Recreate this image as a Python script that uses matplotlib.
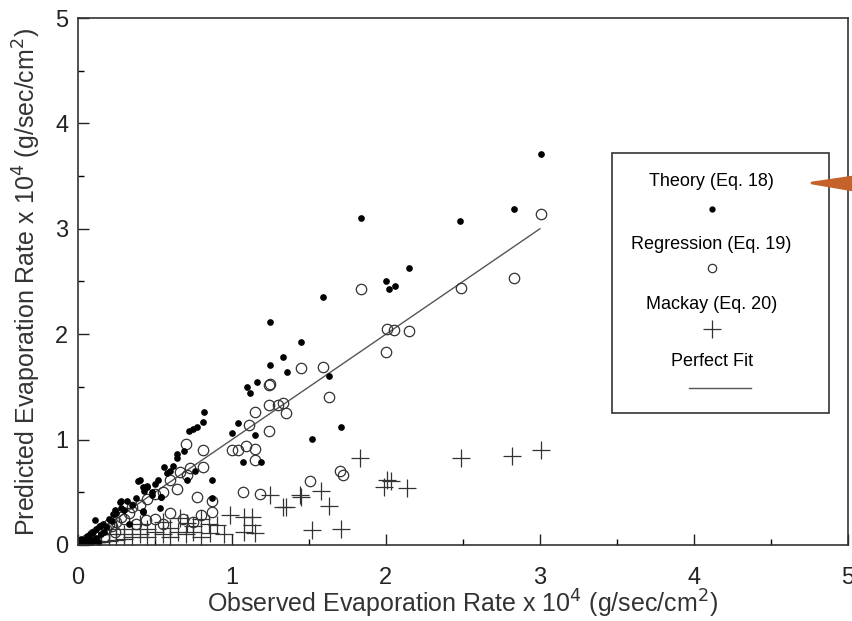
import numpy as np
import matplotlib
matplotlib.use('Agg')
import matplotlib.pyplot as plt
from matplotlib.patches import Rectangle, Polygon

plt.rcParams['font.family'] = ['Liberation Sans', 'DejaVu Sans']

# Theory (Eq. 18) - filled dots
theory_x = [3.01, 2.83, 2.48, 1.84, 2.15, 2.00, 2.02, 2.06, 1.59, 1.45, 1.25, 1.33, 1.25, 1.36,
            1.16, 1.10, 1.12, 1.63, 1.52, 1.71, 0.82, 0.81, 0.72, 0.75, 0.77, 1.04, 1.00, 1.15,
            1.07, 1.19, 0.56, 0.64, 0.64, 0.69, 0.76, 0.71, 0.87, 0.40, 0.42, 0.43, 0.54, 0.27,
            0.24, 0.23, 0.87, 0.42, 0.02, 0.04, 0.06, 0.08, 0.10, 0.12, 0.14, 0.16, 0.18, 0.20,
            0.22, 0.25, 0.28, 0.30, 0.32, 0.35, 0.38, 0.45, 0.48, 0.50, 0.52, 0.58, 0.60, 0.62,
            0.39, 0.45, 0.28, 0.42, 0.53, 0.48, 0.54, 0.33, 0.11, 0.03, 0.05, 0.07, 0.09, 0.12,
            0.15, 0.06, 0.10, 0.13, 0.02, 0.04, 0.17, 0.08]
theory_y = [3.71, 3.19, 3.07, 3.10, 2.63, 2.50, 2.43, 2.46, 2.35, 1.93, 2.12, 1.78, 1.71, 1.64,
            1.55, 1.50, 1.44, 1.60, 1.01, 1.12, 1.26, 1.17, 1.08, 1.10, 1.12, 1.16, 1.06, 1.04,
            0.79, 0.79, 0.74, 0.86, 0.83, 0.89, 0.70, 0.62, 0.62, 0.62, 0.55, 0.51, 0.46, 0.41,
            0.33, 0.29, 0.45, 0.32, 0.02, 0.05, 0.06, 0.10, 0.12, 0.15, 0.18, 0.20, 0.17, 0.25,
            0.23, 0.30, 0.35, 0.33, 0.42, 0.38, 0.45, 0.55, 0.50, 0.58, 0.62, 0.68, 0.70, 0.75,
            0.61, 0.56, 0.42, 0.31, 0.35, 0.47, 0.46, 0.20, 0.24, 0.01, 0.03, 0.02, 0.05, 0.07,
            0.10, 0.09, 0.04, 0.03, 0.06, 0.01, 0.12, 0.02]

# Regression (Eq. 19) - open circles
regr_x = [3.01, 2.83, 2.49, 1.84, 2.01, 2.05, 2.15, 2.00, 1.59, 1.45, 1.63, 1.51, 1.70, 1.72,
          1.25, 1.24, 1.30, 1.33, 1.35, 1.15, 1.11, 1.24, 1.24, 1.00, 1.04, 1.09, 1.15, 1.15,
          1.07, 1.18, 0.70, 0.81, 0.81, 0.77, 0.87, 0.87, 0.73, 0.71, 0.64, 0.60, 0.66,
          0.03, 0.05, 0.08, 0.10, 0.13, 0.15, 0.18, 0.20, 0.22, 0.25, 0.28, 0.30, 0.33, 0.35,
          0.40, 0.45, 0.50, 0.55, 0.50, 0.60, 0.68, 0.75, 0.80, 0.55, 0.06, 0.12, 0.17, 0.24,
          0.38, 0.44]
regr_y = [3.14, 2.53, 2.44, 2.43, 2.05, 2.04, 2.03, 1.83, 1.69, 1.68, 1.40, 0.61, 0.70, 0.66,
          1.53, 1.52, 1.33, 1.35, 1.25, 1.26, 1.14, 1.08, 1.33, 0.90, 0.90, 0.94, 0.91, 0.81,
          0.50, 0.48, 0.96, 0.90, 0.74, 0.46, 0.42, 0.31, 0.73, 0.66, 0.53, 0.62, 0.69,
          0.02, 0.05, 0.07, 0.10, 0.12, 0.16, 0.15, 0.20, 0.18, 0.22, 0.27, 0.25, 0.30, 0.36,
          0.38, 0.44, 0.48, 0.50, 0.25, 0.30, 0.25, 0.22, 0.28, 0.20, 0.02, 0.04, 0.08, 0.12,
          0.20, 0.24]

# Mackay (Eq. 20) - crosses
mackay_x = [0.05, 0.10, 0.15, 0.20, 0.25, 0.30, 0.35, 0.40, 0.45, 0.50, 0.55, 0.60, 0.66, 0.71,
            0.75, 0.80, 0.86, 0.90, 0.99, 1.08, 1.13, 1.13, 1.15, 1.08, 1.25, 1.33, 1.35, 1.44,
            1.45, 1.58, 1.63, 1.52, 1.71, 1.83, 2.01, 1.99, 2.03, 2.14, 2.49, 2.82, 3.01,
            0.35, 0.40, 0.45, 0.55, 0.60, 0.65, 0.70, 0.75, 0.80, 0.85, 0.95, 0.20, 0.25, 0.30]
mackay_y = [0.01, 0.02, 0.03, 0.04, 0.05, 0.06, 0.08, 0.10, 0.08, 0.12, 0.10, 0.16, 0.26, 0.21,
            0.12, 0.08, 0.11, 0.19, 0.28, 0.27, 0.27, 0.19, 0.11, 0.12, 0.47, 0.36, 0.36, 0.47,
            0.46, 0.51, 0.37, 0.14, 0.15, 0.83, 0.62, 0.55, 0.61, 0.54, 0.83, 0.84, 0.90,
            0.15, 0.20, 0.15, 0.22, 0.08, 0.12, 0.10, 0.18, 0.25, 0.20, 0.10, 0.10, 0.15, 0.10]

fit_x = [0, 3]
fit_y = [0, 3]

fig = plt.figure(figsize=(8.53, 6.21), dpi=100)
ax = fig.add_axes([0.0914, 0.1224, 0.9026, 0.8486])

ax.plot(fit_x, fit_y, color='#555555', lw=1.0)
ax.plot(mackay_x, mackay_y, '+', color='#333333', ms=13, mew=0.9)
ax.plot(regr_x, regr_y, 'o', mfc='none', mec='#333333', ms=7.5, mew=0.9)
ax.plot(theory_x, theory_y, 'o', color='black', ms=3.8)

ax.set_xlim(0, 5)
ax.set_ylim(0, 5)
ax.set_xticks(range(6))
ax.set_yticks(range(6))
ax.set_xticks(np.arange(0.5, 5, 1), minor=True)
ax.set_yticks(np.arange(0.5, 5, 1), minor=True)
ax.tick_params(direction='in', length=8, width=1, labelsize=17, colors='#222222')
ax.tick_params(axis='y', pad=7)
ax.tick_params(axis='x', pad=16)
ax.tick_params(which='minor', direction='in', length=4, width=1)
for s in ax.spines.values():
    s.set_linewidth(1.2)
    s.set_color('#333333')

ax.set_xlabel('Observed Evaporation Rate x 10$^4$ (g/sec/cm$^2$)', fontsize=18, color='#333333', labelpad=-1)
ax.set_ylabel('Predicted Evaporation Rate x 10$^4$ (g/sec/cm$^2$)', fontsize=18, color='#333333', labelpad=9)

# legend box drawn by hand
ax.add_patch(Rectangle((0.693, 0.251), 0.283, 0.492, transform=ax.transAxes,
                       fill=False, lw=1.2, ec='#333333'))
lx = 0.823
ax.text(lx, 0.69, 'Theory (Eq. 18)', transform=ax.transAxes, ha='center', va='center', fontsize=13)
ax.plot([lx], [0.638], 'o', color='black', ms=3.5, transform=ax.transAxes)
ax.text(lx, 0.571, 'Regression (Eq. 19)', transform=ax.transAxes, ha='center', va='center', fontsize=13)
ax.plot([lx], [0.525], 'o', mfc='none', mec='#333333', ms=6, mew=0.9, transform=ax.transAxes)
ax.text(lx, 0.457, 'Mackay (Eq. 20)', transform=ax.transAxes, ha='center', va='center', fontsize=13)
ax.plot([lx], [0.41], '+', color='#333333', ms=13, mew=0.9, transform=ax.transAxes)
ax.text(lx, 0.348, 'Perfect Fit', transform=ax.transAxes, ha='center', va='center', fontsize=13)
ax.plot([0.794, 0.874], [0.298, 0.298], color='#555555', lw=1.0, transform=ax.transAxes)

# orange pointer (wedge from right edge)
W, H = 853.0, 621.0
wedge = Polygon([(812 / W, 1 - 183 / H), (853 / W, 1 - 177 / H), (853 / W, 1 - 190 / H)],
                closed=True, transform=fig.transFigure, color='#c5622a', lw=2, joinstyle='round')
fig.patches.append(wedge)

fig.savefig('out.png', dpi=100)
